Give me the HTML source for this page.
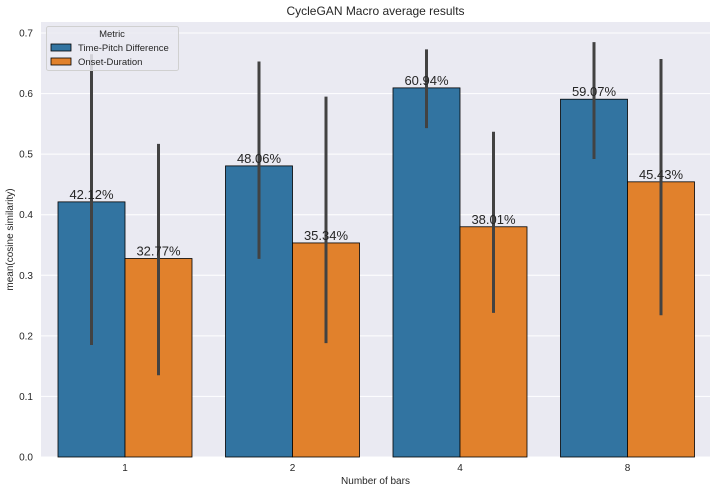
<!DOCTYPE html>
<html><head><meta charset="utf-8"><style>
body{margin:0;background:#fff;font-family:"Liberation Sans",sans-serif}
</style></head><body>
<svg id="c" width="718" height="492" xmlns="http://www.w3.org/2000/svg" font-family="Liberation Sans, sans-serif"></svg>
<script>
const categories=["1","2","4","8"];
const tpd=[0.4212,0.4806,0.6094,0.5907];
const od=[0.3277,0.3534,0.3801,0.4543];
const tpdLo=[0.185,0.327,0.543,0.492];
const tpdHi=[0.665,0.653,0.673,0.685];
const odLo=[0.135,0.188,0.238,0.234];
const odHi=[0.517,0.595,0.537,0.657];
const yTicks=[0,0.1,0.2,0.3,0.4,0.5,0.6,0.7];
const svg=document.getElementById('c');
const NS='http://www.w3.org/2000/svg';
const L=41,R=710,T=22,B=457;
const y=v=>B-v*605.7;
const xc=i=>125+i*167.5;
function mk(t,a,p){const e=document.createElementNS(NS,t);for(const k in a)e.setAttribute(k,a[k]);(p||svg).appendChild(e);return e;}
let bg=mk('rect',{x:L,y:T,width:R-L,height:B-T,fill:'#eaeaf2'});


yTicks.forEach(v=>{
 let g=mk('line',{x1:L,x2:R,y1:y(v),y2:y(v),stroke:'#fff','stroke-width':1});
 
 
 let t=mk('text',{x:L-8,y:y(v)+3.5,'text-anchor':'end','font-size':10,fill:'#262626'});
 t.textContent=v.toFixed(1);
 
 
});
categories.forEach((c,i)=>{
 const cx=xc(i);
 [[tpd,'#3274a1',cx-67,tpdLo,tpdHi,'tpd'],[od,'#e1812c',cx,odLo,odHi,'od']].forEach(([s,col,x0,lo,hi,n])=>{
  let r=mk('rect',{x:x0,y:y(s[i]),width:67,height:B-y(s[i]),fill:col,stroke:'#000','stroke-width':0.8});
  
  
  let e=mk('line',{x1:x0+33.5,x2:x0+33.5,y1:y(lo[i]),y2:Math.max(y(hi[i]),T),stroke:'#424242','stroke-width':3});
  
  
  let t=mk('text',{x:x0+33.5,y:y(s[i])-3,'text-anchor':'middle','font-size':13,fill:'#262626'});
  t.textContent=(s[i]*100).toFixed(2)+'%';
  
  
 });
 let t=mk('text',{x:cx,y:B+14,'text-anchor':'middle','font-size':10,fill:'#262626'});
 t.textContent=c;
 
 
});
let ti=mk('text',{x:(L+R)/2,y:15,'text-anchor':'middle','font-size':12,fill:'#262626'});ti.textContent='CycleGAN Macro average results';


let xt=mk('text',{x:(L+R)/2,y:484,'text-anchor':'middle','font-size':10,fill:'#262626'});xt.textContent='Number of bars';


let yt=mk('text',{x:13,y:(T+B)/2,'text-anchor':'middle','font-size':10,fill:'#262626',transform:'rotate(-90 13 '+(T+B)/2+')'});yt.textContent='mean(cosine similarity)';


const lg=mk('g',{});


mk('rect',{x:46.5,y:26.5,width:132,height:44,rx:2,fill:'#eaeaf2','fill-opacity':0.85,stroke:'#d0d0d0'},lg);
let lt=mk('text',{x:112,y:37,'text-anchor':'middle','font-size':9.5,fill:'#262626'},lg);lt.textContent='Metric';
[['Time-Pitch Difference','#3274a1',44],['Onset-Duration','#e1812c',58]].forEach(([n,c,yy])=>{
 let r=mk('rect',{x:51,y:yy,width:20,height:7,fill:c,stroke:'#000','stroke-width':0.8},lg);
 
 
 let t=mk('text',{x:78,y:yy+7,'font-size':9.5,fill:'#262626'},lg);t.textContent=n;
 
 
});
</script>
</body></html>
